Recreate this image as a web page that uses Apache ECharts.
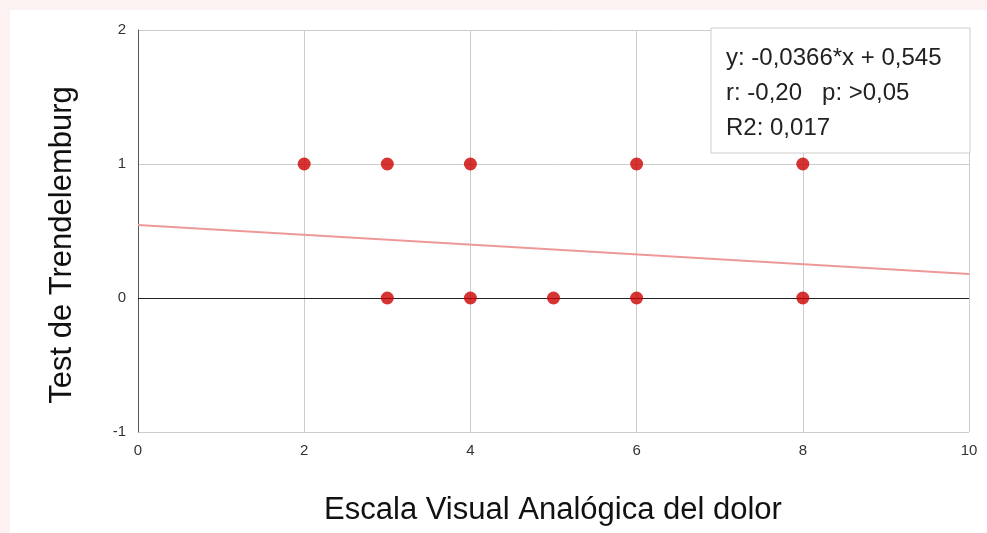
<!DOCTYPE html>
<html>
<head>
<meta charset="utf-8">
<script src="https://cdn.jsdelivr.net/npm/echarts@6/dist/echarts.min.js"></script>
<style>
  html, body { margin: 0; padding: 0; background: #fdf2f2; }
  #chart { position: absolute; left: 10px; top: 10px; width: 977px; height: 523px; background: #fff; }
</style>
</head>
<body>
<div id="chart"></div>
<script>
// data
const evaScores = [2, 3, 4, 6, 8, 3, 4, 5, 6, 8];
const trendelenburg = [1, 1, 1, 1, 1, 0, 0, 0, 0, 0];
const trendX = [0, 10];
const trendY = [0.545, 0.179];
const statsLines = ["y: -0,0366*x + 0,545", "r: -0,20   p: >0,05", "R2: 0,017"];

const chart = echarts.init(document.getElementById("chart"));
const font = "'Liberation Sans', Arial, sans-serif";

const option = {
  animation: false,
  grid: { left: 128, right: 18, top: 20, bottom: 101 },
  xAxis: {
    type: "value",
    min: 0,
    max: 10,
    interval: 2,
    axisLine: { show: false },
    axisTick: { show: false },
    axisLabel: { color: "#333", fontSize: 15, fontFamily: font, margin: 11 },
    splitLine: { lineStyle: { color: "#cccccc", width: 1 } },
  },
  yAxis: {
    type: "value",
    min: -1,
    max: 2,
    interval: 1,
    axisLine: { show: true, lineStyle: { color: "#555", width: 1 } },
    axisTick: { show: false },
    axisLabel: { color: "#333", fontSize: 15, fontFamily: font, margin: 12 },
    splitLine: { lineStyle: { color: "#cccccc", width: 1 } },
  },
  series: [
    {
      type: "line",
      data: trendX.map((x, i) => [x, trendY[i]]),
      symbol: "none",
      lineStyle: { color: "#ee9999", width: 2 },
      silent: true,
      z: 2,
      markLine: {
        silent: true,
        symbol: "none",
        label: { show: false },
        lineStyle: { color: "#222", width: 1, type: "solid" },
        data: [{ yAxis: 0 }],
      },
    },
    {
      type: "scatter",
      data: evaScores.map((x, i) => [x, trendelenburg[i]]),
      symbol: "circle",
      symbolSize: 13,
      itemStyle: { color: "#cc0000" },
      z: 5,
    },
  ],
  graphic: [
    {
      type: "rect",
      shape: { x: 701, y: 18, width: 259, height: 125 },
      style: { fill: "#fff", stroke: "#cccccc", lineWidth: 1 },
      z: 100,
    },
    ...statsLines.map((t, i) => ({
      type: "text",
      x: 716,
      y: 36 + i * 35,
      style: { text: t, fill: "#222", font: "24px " + font },
      z: 101,
    })),
    {
      type: "text",
      x: 543,
      y: 500,
      style: { text: "Escala Visual Analógica del dolor", fill: "#111", font: "31px " + font, align: "center", verticalAlign: "middle" },
    },
    {
      type: "text",
      x: 52,
      y: 235,
      rotation: Math.PI / 2,
      style: { text: "Test de Trendelemburg", fill: "#111", font: "31px " + font, align: "center", verticalAlign: "middle" },
    },
  ],
};
chart.setOption(option);
</script>
</body>
</html>
